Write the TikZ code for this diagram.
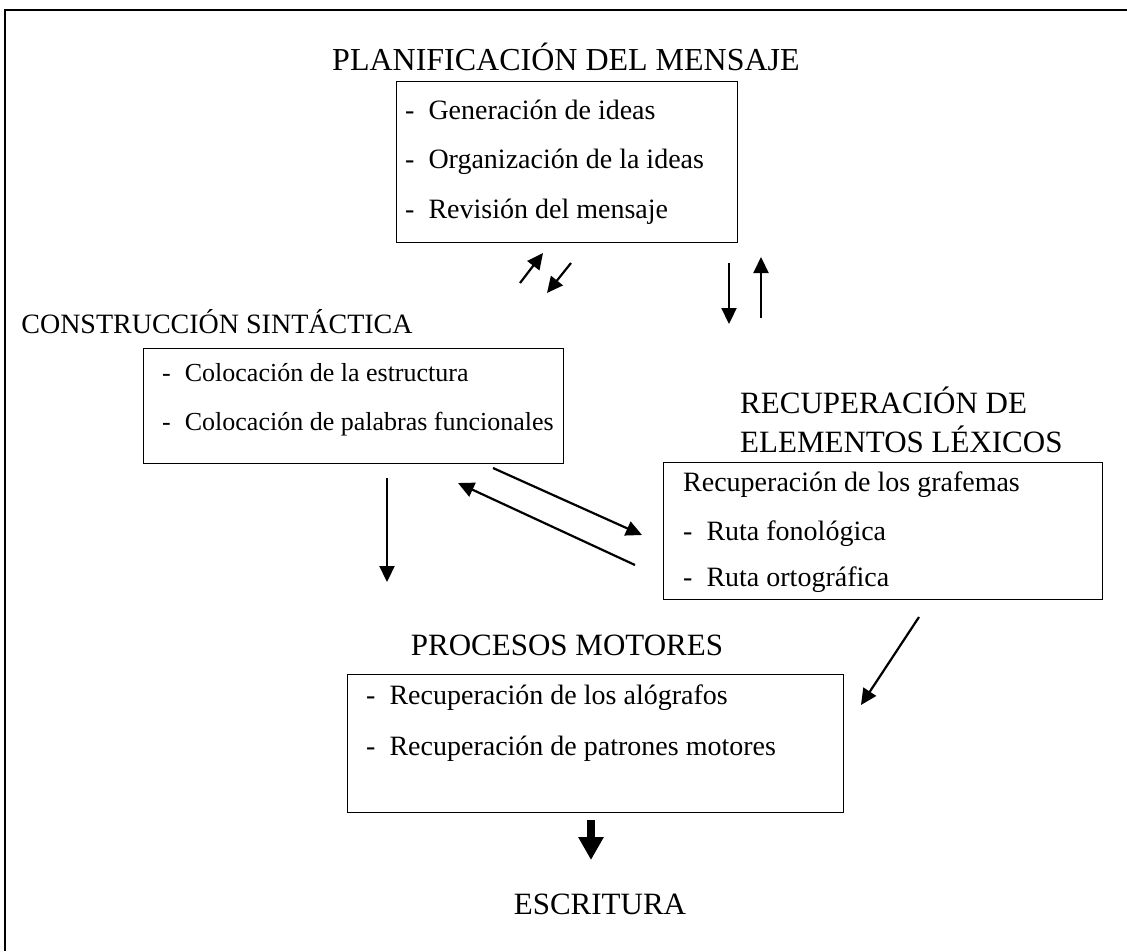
\documentclass[tikz,border=0pt]{standalone}
\usepackage{fontspec}
\setmainfont{Liberation Serif}
\usetikzlibrary{arrows.meta}
\begin{document}
\begin{tikzpicture}[x=1pt,y=-1pt,
  box/.style={draw,line width=1.4pt,inner sep=0pt,anchor=north west},
  ttl/.style={font=\fontsize{31}{36}\selectfont,inner sep=0pt},
  item/.style={font=\fontsize{28}{30}\selectfont,inner sep=0pt,anchor=west},
  smallitem/.style={item,font=\fontsize{26}{30}\selectfont},
  arr/.style={line width=2.2pt,-{Triangle[length=16pt,width=15pt]}},
  bigarr/.style={line width=8.5pt,-{Triangle[length=23pt,width=24pt]}}]
\useasboundingbox (0,0) rectangle (1127,951);
\draw[line width=2pt] (5,951) -- (5,10) -- (1127,10);
% boxes
\node[box,minimum width=341pt,minimum height=161pt] (b1) at (396,81) {};
\node[box,minimum width=420pt,minimum height=115pt] (b2) at (143,348) {};
\node[box,minimum width=439pt,minimum height=137pt] (b3) at (663,462) {};
\node[box,minimum width=496pt,minimum height=138pt] (b4) at (347,674) {};
% titles
\node[ttl,font=\fontsize{32}{36}\selectfont] (t1) at (566,57) {PLANIFICACIÓN DEL MENSAJE};
\node[ttl,font=\fontsize{28}{36}\selectfont] (t2) at (217,322) {CONSTRUCCIÓN SINTÁCTICA};
\node[ttl,anchor=west,align=left,font=\fontsize{31}{39}\selectfont] (t3) at (740,420) {RECUPERACIÓN DE\\ELEMENTOS LÉXICOS};
\node[ttl] (t4) at (567,645) {PROCESOS MOTORES};
\node[ttl] (t5) at (600,904) {ESCRITURA};
% items
\node[item] (i11) at (405,110) {-\hspace{14pt}Generación de ideas};
\node[item] (i12) at (405,162) {-\hspace{14pt}Organización de la ideas};
\node[item] (i13) at (405,212) {-\hspace{14pt}Revisión del mensaje};
\node[smallitem] (i21) at (162,373) {-\hspace{14pt}Colocación de la estructura};
\node[smallitem] (i22) at (162,424) {-\hspace{14pt}Colocación de palabras funcionales};
\node[item] (i31) at (683,485) {Recuperación de los grafemas};
\node[item] (i32) at (683,534) {-\hspace{14pt}Ruta fonológica};
\node[item] (i33) at (683,580) {-\hspace{14pt}Ruta ortográfica};
\node[item] (i41) at (366,698) {-\hspace{14pt}Recuperación de los alógrafos};
\node[item] (i42) at (366,749) {-\hspace{14pt}Recuperación de patrones motores};
% arrow end points
\coordinate (a1s) at (520,283); \coordinate (a1e) at (543,253);
\coordinate (a2s) at (571,263); \coordinate (a2e) at (547,293);
\coordinate (a3s) at (729,263); \coordinate (a3e) at (729,324);
\coordinate (a4s) at (761,318); \coordinate (a4e) at (761,257);
\coordinate (a5s) at (387,478); \coordinate (a5e) at (387,582);
\coordinate (a6s) at (493,468); \coordinate (a6e) at (642,535);
\coordinate (a7s) at (635,565); \coordinate (a7e) at (458,483);
\coordinate (a8s) at (919,617); \coordinate (a8e) at (861,705);
\coordinate (a9s) at (591,820); \coordinate (a9e) at (591,860);
\draw[arr] (a1s) -- (a1e);
\draw[arr] (a2s) -- (a2e);
\draw[arr] (a3s) -- (a3e);
\draw[arr] (a4s) -- (a4e);
\draw[arr] (a5s) -- (a5e);
\draw[arr] (a6s) -- (a6e);
\draw[arr] (a7s) -- (a7e);
\draw[arr] (a8s) -- (a8e);
\draw[bigarr] (a9s) -- (a9e);
\end{tikzpicture}
\end{document}
